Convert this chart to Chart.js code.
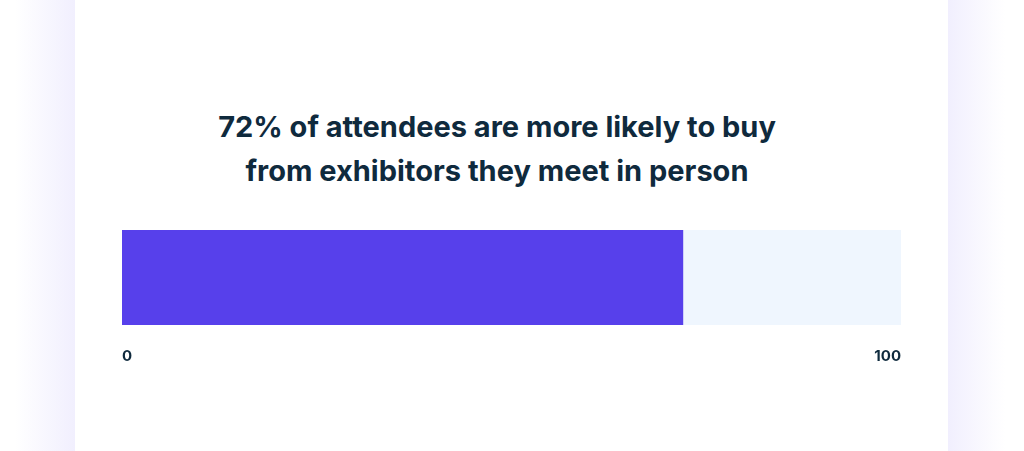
<!DOCTYPE html>
<html>
<head>
<meta charset="utf-8">
<script src="https://cdn.jsdelivr.net/npm/chart.js@4"></script>
<style>
  html, body { margin: 0; padding: 0; }
  body {
    width: 1024px; height: 451px; overflow: hidden; position: relative;
    background: linear-gradient(to right, #ffffff 0px, #ffffff 15px, #f1effe 75px, #f1effe 948px, #ffffff 1005px);
  }
  .card { position: absolute; left: 75px; top: 0; width: 873px; height: 451px; background: #fff; }
  h1 {
    position: absolute; left: 0; width: 994px; top: 105px; margin: 0;
    text-align: center; font-family: Inter, sans-serif; font-weight: 700;
    font-size: 29px; line-height: 44px; color: #0f2a3d; letter-spacing: 0px;
  }
  .wrap { position: absolute; left: 108px; top: 220px; width: 807px; height: 160px; }
</style>
</head>
<body>
<div class="card"></div>
<h1>72% of attendees are more likely to buy<br>from exhibitors they meet in person</h1>
<div class="wrap"><canvas id="bar"></canvas></div>
<script>
// données du graphe
const categories = ['Attendees']
const shareValues = [72]   // pourcentage
const trackValues = [100]  // fond de la barre
const tickLabels = [0, 100]

const config = {
  type: 'bar',
  data: {
    labels: categories,
    datasets: [
      { data: shareValues, backgroundColor: '#5740eb', barPercentage: 1, categoryPercentage: 1 },
      { data: trackValues, backgroundColor: '#eff6fe', barPercentage: 1, categoryPercentage: 1 }
    ]
  },
  options: {
    indexAxis: 'y',
    responsive: true,
    maintainAspectRatio: false,
    animation: false,
    layout: { padding: { top: 10, left: 0, right: 0, bottom: 0 } },
    grouped: false,
    plugins: { legend: { display: false }, tooltip: { enabled: false } },
    scales: {
      y: { display: false },
      x: {
        min: 0, max: 100,
        grid: { display: false }, border: { display: false },
        afterBuildTicks: (scale) => { scale.ticks = tickLabels.map(v => ({ value: v })) },
        afterFit: (scale) => { scale.height = 55 },
        ticks: {
          align: 'inner', padding: 14, maxRotation: 0,
          color: '#0f2a3d', font: { family: 'Inter', weight: 'bold', size: 15 }
        }
      }
    }
  }
}

new Chart(document.getElementById('bar'), config)
</script>
</body>
</html>
